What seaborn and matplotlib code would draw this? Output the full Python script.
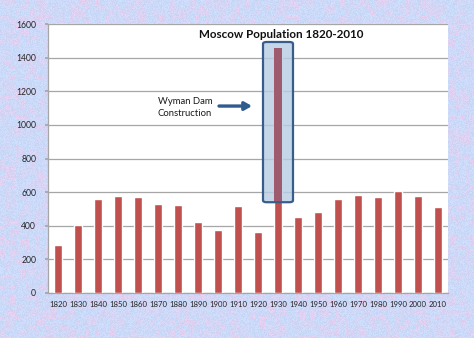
import numpy as np
import pandas as pd
import matplotlib
matplotlib.use("Agg")
import matplotlib.pyplot as plt
from matplotlib.patches import FancyBboxPatch, Rectangle
import seaborn as sns

# Census years and population (in hundreds)
years = [1820, 1830, 1840, 1850, 1860, 1870, 1880, 1890, 1900, 1910,
         1920, 1930, 1940, 1950, 1960, 1970, 1980, 1990, 2000, 2010]
population = [287, 403, 561, 577, 573, 529, 521, 420, 377, 517,
              365, 1455, 452, 482, 557, 585, 569, 608, 577, 513]
y_ticks = [0, 200, 400, 600, 800, 1000, 1200, 1400, 1600]
highlight_year = 1930
title = "Moscow Population 1820-2010"
note = "Wyman Dam\nConstruction"

sns.set_theme(style="white")
plt.rcParams["font.family"] = ["Lato", "DejaVu Sans"]

df = pd.DataFrame({"year": [str(y) for y in years], "population": population})

fig = plt.figure(figsize=(4.74, 3.38), dpi=100)

# Textured pastel backdrop
bg = fig.add_axes([0, 0, 1, 1], zorder=-10)
rng = np.random.default_rng(7)
h, w = 338, 474
noise = rng.random((h // 5 + 2, w // 5 + 2))
coarse = np.kron(noise, np.ones((5, 5)))[:h, :w]
fine = rng.random((h, w))
mix = (0.75 * coarse + 0.25 * fine) ** 2.6
blue = np.array([0.79, 0.86, 0.98])
pink = np.array([0.92, 0.80, 0.93])
img = blue[None, None, :] * (1 - mix[..., None]) + pink[None, None, :] * mix[..., None]
img = np.clip(img + (fine[..., None] - 0.5) * 0.05, 0, 1)
bg.imshow(img, aspect="auto", interpolation="bilinear")
bg.axis("off")

ax = fig.add_axes([48 / 474, 1 - 293 / 338, 400 / 474, 269 / 338])
ax.set_facecolor("white")

sns.barplot(data=df, x="year", y="population", color="#c0504d",
            saturation=1, width=0.4, ax=ax, zorder=3)

ax.set_xlim(-0.5, len(years) - 0.5)
ax.set_ylim(0, 1600)
ax.set_yticks(y_ticks)
ax.set_xlabel("")
ax.set_ylabel("")
ax.yaxis.grid(True, color="#a6a6a6", linewidth=0.9, zorder=0)
ax.set_axisbelow(True)

for s in ["top", "right"]:
    ax.spines[s].set_visible(False)
for s in ["left", "bottom"]:
    ax.spines[s].set_color("#a6a6a6")
    ax.spines[s].set_linewidth(0.9)

ax.tick_params(axis="x", which="major", length=0, pad=6, labelsize=5.6,
               labelcolor="#262626")
ax.set_xticks(np.arange(-0.5, len(years)), minor=True)
ax.tick_params(axis="x", which="minor", length=3, color="#a6a6a6", width=0.8)
ax.tick_params(axis="y", length=2.5, color="#a6a6a6", pad=6, left=True,
               labelsize=6.2, labelcolor="#262626")

# Rounded highlight around the 1930 bar
hi = years.index(highlight_year)
box_kw = dict(boxstyle="round,pad=0,rounding_size=0.18", mutation_aspect=60)
box = FancyBboxPatch((hi - 0.75, 540), 1.5, 1493 - 540,
                     facecolor="#b9cde5", alpha=0.82, edgecolor="none",
                     zorder=4, **box_kw)
ax.add_patch(box)

# Tinted part of the bar seen through the highlight
bar = ax.patches[hi]
tint = Rectangle((bar.get_x(), 0), bar.get_width(), population[hi],
                 facecolor="#9e5a6f", edgecolor="none", zorder=4.5)
ax.add_patch(tint)
tint.set_clip_path(box)

box_edge = FancyBboxPatch((hi - 0.75, 540), 1.5, 1493 - 540,
                          facecolor="none", edgecolor="#385d8a",
                          linewidth=1.6, zorder=5, **box_kw)
ax.add_patch(box_edge)

# Note with arrow pointing to the highlighted bar
ax.text(hi - 6.0, 1105, note, fontsize=6.8, color="#1a1a1a",
        ha="left", va="center", linespacing=1.45, zorder=6)
ax.annotate("", xy=(hi - 1.3, 1112), xytext=(hi - 2.95, 1112),
            arrowprops=dict(arrowstyle="-|>,head_length=0.35,head_width=0.2",
                            color="#2f5b8f", lw=2.4, shrinkA=0, shrinkB=0),
            zorder=6)

ax.text(0.582, 0.962, title, transform=ax.transAxes, fontsize=8.4,
        fontweight="bold", color="#111111", ha="center", va="center", zorder=6)

fig.savefig("out.png", dpi=100)
